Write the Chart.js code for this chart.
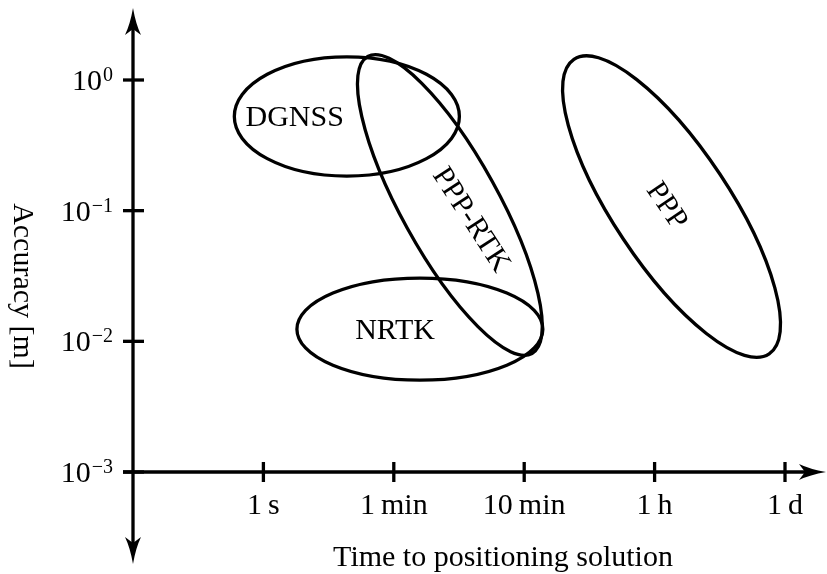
<!DOCTYPE html>
<html>
<head>
<meta charset="utf-8">
<title>Accuracy vs. time to positioning solution</title>
<script src="https://cdn.jsdelivr.net/npm/chart.js@4.4.1/dist/chart.umd.min.js"></script>
<style>
  html, body { margin: 0; padding: 0; background: #fff; }
</style>
</head>
<body>
<canvas id="chart" width="827" height="574"></canvas>
<script>
// 時間軸の目盛り (1 目盛り = 1 単位)
const timeTicks = ['1 s', '1 min', '10 min', '1 h', '1 d'];
// 精度軸の目盛り (10 の指数)
const accuracyExps = [0, -1, -2, -3];

// 測位方式ごとの領域 (大きさは軸単位: 時間 = 目盛り, 精度 = 桁)
const methods = ['DGNSS', 'NRTK', 'PPP-RTK', 'PPP'];
const centerTime = [1.64, 2.20, 2.43, 4.13];
const centerAccuracy = [0.526, 0.0124, 0.1105, 0.1076];
const majorRadius = [0.863, 0.943, 1.299, 1.353];
const minorRadius = [0.456, 0.391, 0.372, 0.446];
const tiltDeg = [0, 0, 61, 56.4];

// ラベルの位置
const labelTime = [1.24, 2.01, 2.59, 4.09];
const labelAccuracy = [0.512, 0.0120, 0.0849, 0.1086];
const labelDeg = [0, 0, 57, 56];

const FONT = '"Liberation Serif", "DejaVu Serif", serif';
const MAIN = '30px ' + FONT;
const LW = 3.3;

// 矢印 (tip の位置と向き)
function arrowHead(ctx, tx, ty, dx, dy) {
  const len = 27, half = 8, notch = 6;
  const px = -dy, py = dx;
  const bx = tx - dx * len, by = ty - dy * len;
  ctx.beginPath();
  ctx.moveTo(tx, ty);
  ctx.quadraticCurveTo(tx - dx * len * 0.6 + px * half * 0.35, ty - dy * len * 0.6 + py * half * 0.35,
    bx + px * half, by + py * half);
  ctx.lineTo(tx - dx * (len - notch), ty - dy * (len - notch));
  ctx.lineTo(bx - px * half, by - py * half);
  ctx.quadraticCurveTo(tx - dx * len * 0.6 - px * half * 0.35, ty - dy * len * 0.6 - py * half * 0.35,
    tx, ty);
  ctx.closePath();
  ctx.fill();
}

const regionPlugin = {
  id: 'regions',
  afterDraw(chart) {
    const { ctx, scales: { x, y } } = chart;
    const ux = x.getPixelForValue(1) - x.getPixelForValue(0);
    const uy = y.getPixelForValue(0.1) - y.getPixelForValue(1);
    ctx.save();
    ctx.strokeStyle = '#000';
    ctx.fillStyle = '#000';

    // 各方式の楕円
    methods.forEach((name, i) => {
      const cx = x.getPixelForValue(centerTime[i]);
      const cy = y.getPixelForValue(centerAccuracy[i]);
      ctx.save();
      ctx.translate(cx, cy);
      ctx.scale(ux, uy);
      ctx.rotate(tiltDeg[i] * Math.PI / 180);
      ctx.beginPath();
      ctx.ellipse(0, 0, majorRadius[i], minorRadius[i], 0, 0, Math.PI * 2);
      ctx.restore();
      ctx.lineWidth = LW;
      ctx.stroke();

      ctx.save();
      ctx.translate(x.getPixelForValue(labelTime[i]), y.getPixelForValue(labelAccuracy[i]));
      ctx.rotate(labelDeg[i] * Math.PI / 180);
      ctx.font = MAIN;
      ctx.textAlign = 'center';
      ctx.textBaseline = 'middle';
      ctx.fillText(name, 0, 0);
      ctx.restore();
    });

    // 軸
    const x0 = x.getPixelForValue(0);
    const yBase = y.getPixelForValue(1e-3);
    ctx.lineWidth = LW;
    ctx.beginPath();
    ctx.moveTo(x0, 548);
    ctx.lineTo(x0, 24);
    ctx.moveTo(x0 - 10, yBase);
    ctx.lineTo(812, yBase);
    ctx.stroke();
    arrowHead(ctx, x0, 8, 0, -1);
    arrowHead(ctx, x0, 564, 0, 1);
    arrowHead(ctx, 826, yBase, 1, 0);

    // 精度軸の目盛りとラベル
    accuracyExps.forEach(e => {
      const py = y.getPixelForValue(Math.pow(10, e));
      ctx.beginPath();
      ctx.moveTo(x0 - 10, py);
      ctx.lineTo(x0 + 11, py);
      ctx.stroke();
      const sup = e === 0 ? '0' : '\u2212' + Math.abs(e);
      ctx.textBaseline = 'alphabetic';
      ctx.textAlign = 'right';
      ctx.font = '20px ' + FONT;
      const supW = ctx.measureText(sup).width;
      ctx.fillText(sup, 113, py + 1);
      ctx.font = MAIN;
      ctx.fillText('10', 113 - supW - 1, py + 10);
    });

    // 時間軸の目盛りとラベル
    timeTicks.forEach((t, i) => {
      const px = x.getPixelForValue(i + 1);
      ctx.beginPath();
      ctx.moveTo(px, yBase - 10);
      ctx.lineTo(px, yBase + 10);
      ctx.stroke();
      ctx.font = MAIN;
      ctx.textAlign = 'center';
      ctx.textBaseline = 'alphabetic';
      ctx.fillText(t.replace(' ', '\u2009'), px, 514);
    });

    // 軸タイトル
    ctx.font = MAIN;
    ctx.textAlign = 'center';
    ctx.textBaseline = 'alphabetic';
    ctx.fillText('Time to positioning solution', 503, 566);
    ctx.save();
    ctx.translate(14, 286);
    ctx.rotate(Math.PI / 2);
    ctx.fillText('Accuracy [m]', 0, 0);
    ctx.restore();

    ctx.restore();
  }
};

new Chart(document.getElementById('chart'), {
  type: 'scatter',
  data: {
    datasets: [{
      label: 'regions',
      data: methods.map((m, i) => ({ x: centerTime[i], y: centerAccuracy[i] })),
      pointRadius: 0,
      showLine: false
    }]
  },
  options: {
    responsive: false,
    animation: false,
    devicePixelRatio: 1,
    layout: { padding: { left: 133, right: 42, top: 80, bottom: 102 } },
    plugins: { legend: { display: false }, tooltip: { enabled: false } },
    scales: {
      x: { type: 'linear', min: 0, max: timeTicks.length, display: false },
      y: { type: 'logarithmic', min: 1e-3, max: 1, display: false }
    }
  },
  plugins: [regionPlugin]
});
</script>
</body>
</html>
